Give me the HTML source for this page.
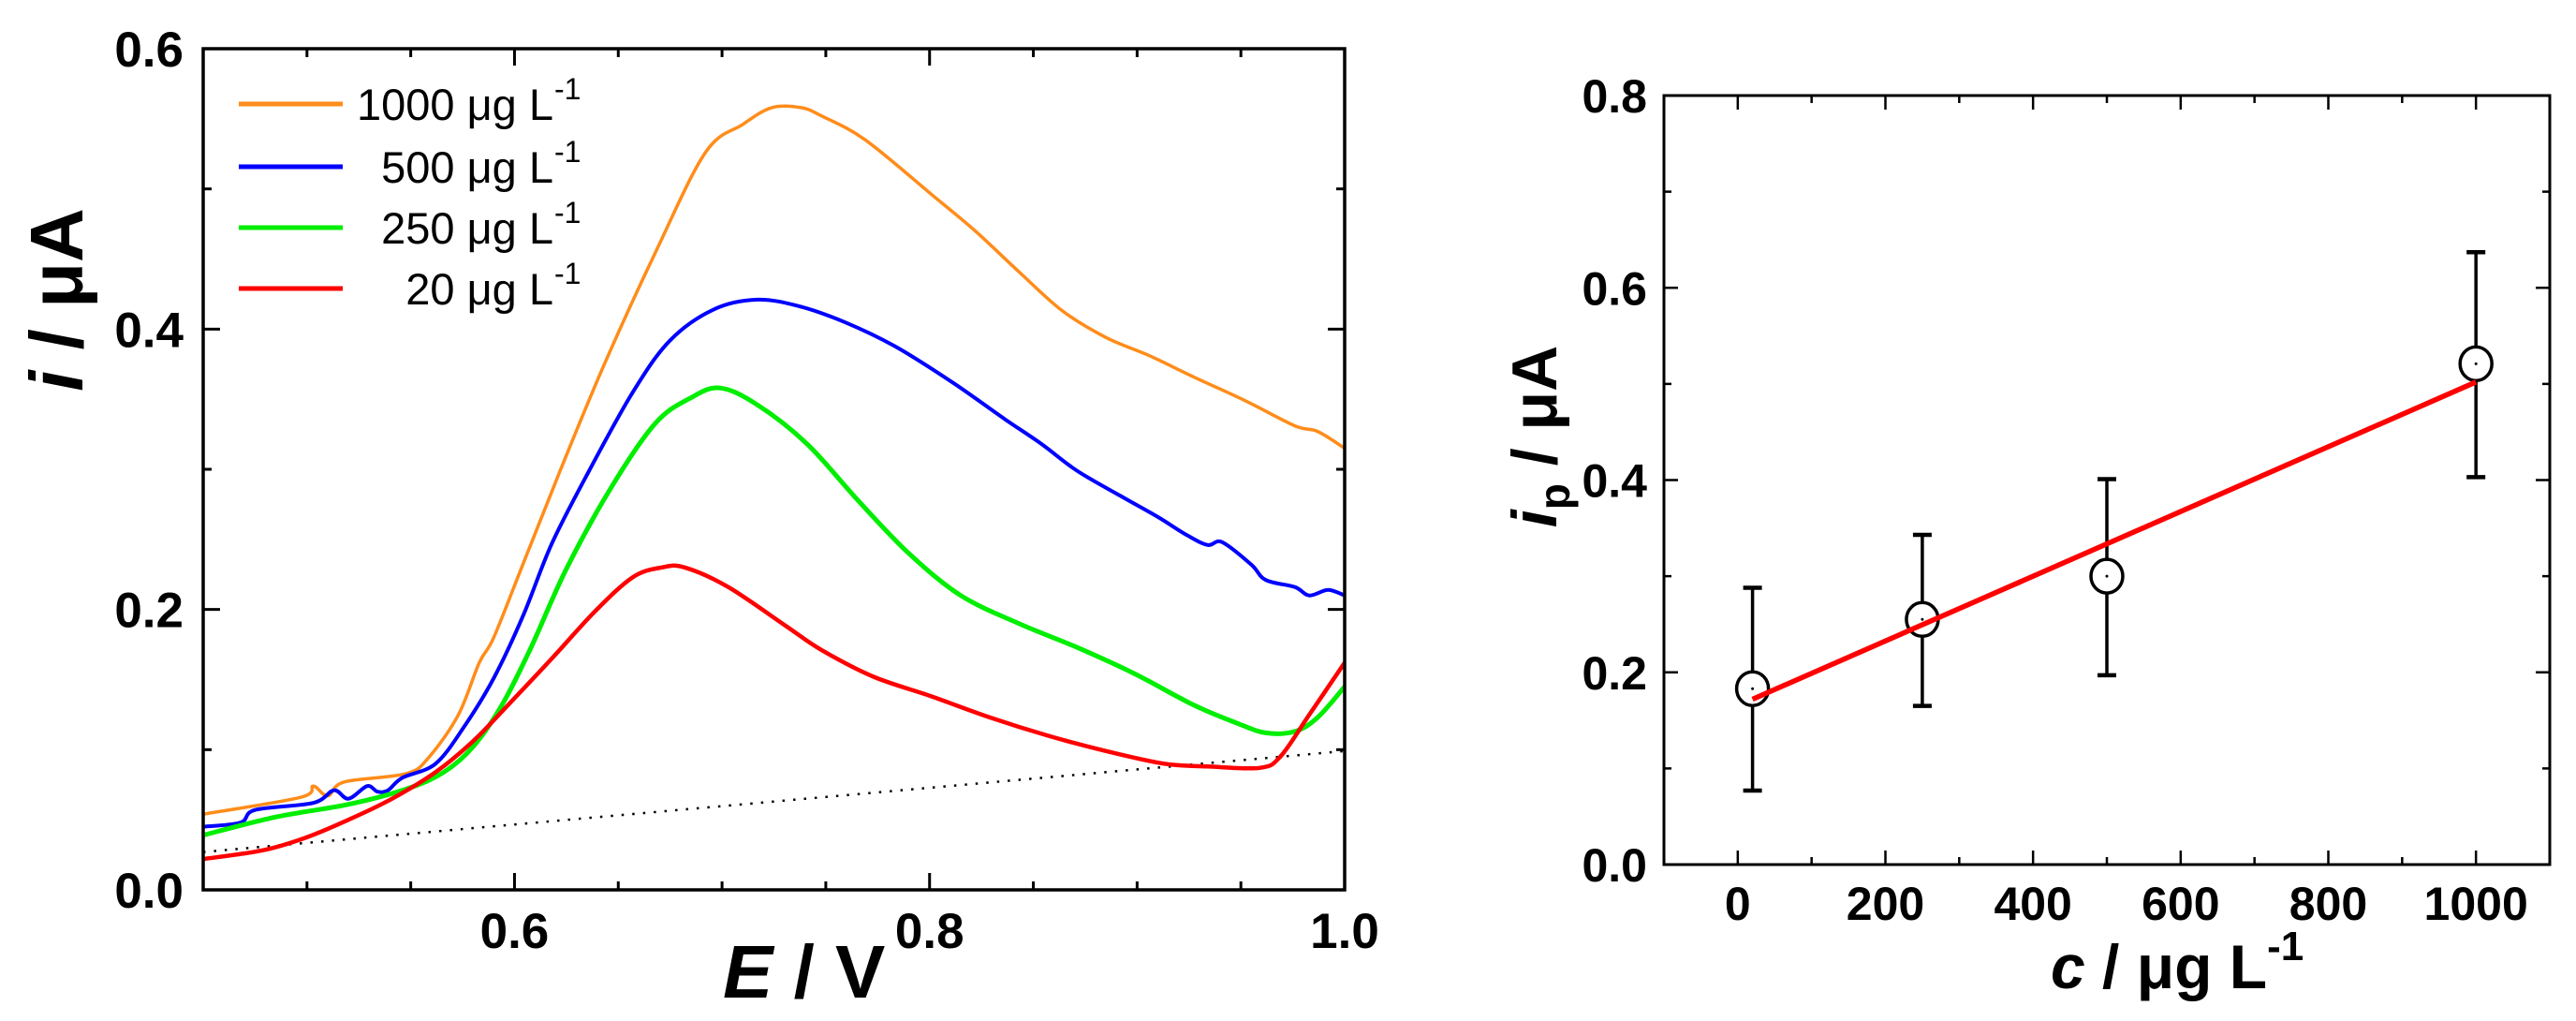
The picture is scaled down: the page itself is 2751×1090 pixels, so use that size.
<!DOCTYPE html>
<html><head><meta charset="utf-8"><style>
html,body{margin:0;padding:0;background:#fff}
svg{display:block}
text{font-family:"Liberation Sans",Arial,sans-serif}
</style></head><body>
<svg id="fig" width="2751" height="1090" viewBox="0 0 2751 1090" xmlns="http://www.w3.org/2000/svg">
<rect width="2751" height="1090" fill="#fff"/>
<g id="left"></g>
<g id="right"></g>
</svg>
<script>
// ---------- Left chart data ----------
const E1000 = [0.450,0.497,0.503,0.510,0.518,0.548,0.559,0.573,0.583,0.590,0.604,0.622,0.643,0.668,0.692,0.710,0.724,0.738,0.748,0.769,0.801,0.822,0.843,0.864,0.885,0.906,0.927,0.952,0.976,0.987,1.000];
const I1000 = [0.054,0.066,0.074,0.067,0.077,0.083,0.095,0.125,0.162,0.180,0.232,0.299,0.374,0.455,0.526,0.546,0.558,0.558,0.552,0.535,0.496,0.470,0.441,0.413,0.394,0.381,0.366,0.349,0.331,0.327,0.315];
const E500 = [0.450,0.468,0.475,0.503,0.513,0.520,0.529,0.534,0.539,0.546,0.562,0.576,0.590,0.604,0.618,0.636,0.657,0.675,0.696,0.717,0.738,0.759,0.783,0.811,0.836,0.854,0.871,0.892,0.910,0.924,0.934,0.941,0.955,0.962,0.976,0.983,0.992,1.000];
const I500 = [0.045,0.048,0.057,0.062,0.071,0.065,0.074,0.070,0.071,0.080,0.090,0.117,0.151,0.195,0.247,0.299,0.355,0.392,0.414,0.421,0.416,0.405,0.388,0.362,0.336,0.318,0.299,0.281,0.266,0.253,0.246,0.248,0.232,0.221,0.216,0.210,0.214,0.210];
const E250 = [0.450,0.485,0.520,0.548,0.566,0.580,0.594,0.608,0.625,0.647,0.668,0.685,0.699,0.717,0.741,0.766,0.790,0.815,0.843,0.871,0.899,0.927,0.948,0.962,0.976,0.987,1.000];
const I250 = [0.039,0.052,0.061,0.072,0.084,0.102,0.132,0.173,0.229,0.288,0.333,0.351,0.358,0.346,0.318,0.277,0.240,0.210,0.190,0.173,0.154,0.132,0.119,0.112,0.113,0.123,0.145];
const E20 = [0.450,0.478,0.499,0.520,0.541,0.562,0.580,0.597,0.618,0.639,0.657,0.671,0.682,0.703,0.731,0.748,0.773,0.801,0.829,0.857,0.885,0.913,0.934,0.959,0.969,0.983,1.000];
const I20 = [0.022,0.028,0.037,0.050,0.065,0.084,0.106,0.132,0.165,0.199,0.223,0.230,0.230,0.216,0.188,0.171,0.152,0.138,0.123,0.110,0.099,0.090,0.088,0.087,0.095,0.125,0.162];
const baseE = [0.450,1.000];
const baseI = [0.027,0.099];
const legendLabels = ["1000","500","250","20"];
const xTicksL = [0.6,0.8,1.0];
const yTicksL = [0.0,0.2,0.4,0.6];

// ---------- Right chart data ----------
const conc = [20,250,500,1000];
const peak = [0.183,0.255,0.300,0.521];
const errHi = [0.288,0.343,0.401,0.637];
const errLo = [0.077,0.165,0.197,0.403];
const fitX = [20,1000];
const fitY = [0.172,0.502];
const xTicksR = [0,200,400,600,800,1000];
const yTicksR = [0.0,0.2,0.4,0.6,0.8];

const NS="http://www.w3.org/2000/svg";
function mk(parent,tag,attrs,txt){const e=document.createElementNS(NS,tag);for(const k in attrs)e.setAttribute(k,attrs[k]);if(txt!==undefined)e.textContent=txt;parent.appendChild(e);return e;}

// Left axes
const L={x0:217,x1:1436,y0:950,y1:52};
const lx=v=>L.x0+(v-0.45)/(0.55)*(L.x1-L.x0);
const ly=v=>L.y0-v/0.6*(L.y0-L.y1);
const gl=document.getElementById('left');

function smoothPath(P){
  let d='M'+P[0][0].toFixed(1)+','+P[0][1].toFixed(1);
  for(let i=0;i<P.length-1;i++){
    const p0=P[Math.max(0,i-1)],p1=P[i],p2=P[i+1],p3=P[Math.min(P.length-1,i+2)];
    const c1x=p1[0]+(p2[0]-p0[0])/6,c1y=p1[1]+(p2[1]-p0[1])/6;
    const c2x=p2[0]-(p3[0]-p1[0])/6,c2y=p2[1]-(p3[1]-p1[1])/6;
    d+=' C'+c1x.toFixed(1)+','+c1y.toFixed(1)+' '+c2x.toFixed(1)+','+c2y.toFixed(1)+' '+p2[0].toFixed(1)+','+p2[1].toFixed(1);
  }
  return d;
}
function series(E,I,color,w,name){
  const P=E.map((e,i)=>[lx(e),ly(I[i])]);
  const p=mk(gl,'path',{d:smoothPath(P),fill:'none',stroke:color,'stroke-width':w,'stroke-linejoin':'round'});
  
  
}
{
  const d='M'+lx(baseE[0])+','+ly(baseI[0])+' L'+lx(baseE[1])+','+ly(baseI[1]);
  const p=mk(gl,'path',{d:d,stroke:'#000','stroke-width':2.5,'stroke-dasharray':'2.5 9',fill:'none'});
  
  
}
series(E1000,I1000,'#ff8c1a',3.5,'series-1000');
series(E500,I500,'#0000ff',4,'series-500');
series(E250,I250,'#00ee00',5,'series-250');
series(E20,I20,'#ff0000',4.5,'series-20');

// frame & ticks left
{
  const f=mk(gl,'rect',{x:L.x0,y:L.y1,width:L.x1-L.x0,height:L.y0-L.y1,fill:'none',stroke:'#000','stroke-width':3.5});
  
  
  for(let k=0;k<=11;k++){const v=0.45+k*0.05;const X=lx(v);const major=(k%4==3);const len=major?18:9;
    mk(gl,'line',{x1:X,y1:L.y0,x2:X,y2:L.y0-len,stroke:'#000','stroke-width':3});
    mk(gl,'line',{x1:X,y1:L.y1,x2:X,y2:L.y1+len,stroke:'#000','stroke-width':3});}
  for(let k=0;k<=6;k++){const v=k*0.1;const Y=ly(v);const len=(k%2==0)?18:9;
    mk(gl,'line',{x1:L.x0,y1:Y,x2:L.x0+len,y2:Y,stroke:'#000','stroke-width':3});
    mk(gl,'line',{x1:L.x1,y1:Y,x2:L.x1-len,y2:Y,stroke:'#000','stroke-width':3});}
  yTicksL.forEach(v=>{const t=mk(gl,'text',{x:196,y:ly(v)+19,'text-anchor':'end','font-size':53,'font-weight':'bold'},v.toFixed(1));
    
    });
  xTicksL.forEach(v=>{const t=mk(gl,'text',{x:lx(v),y:1012,'text-anchor':'middle','font-size':53,'font-weight':'bold'},v.toFixed(1));
    
    });
  const yt=mk(gl,'text',{transform:'translate(88,320) rotate(-90)','text-anchor':'middle','font-size':80,'font-weight':'bold'});
  
  
  mk(yt,'tspan',{'font-style':'italic'},'i');mk(yt,'tspan',{},' / μA');
  const xt=mk(gl,'text',{x:772,y:1065,'font-size':80,'font-weight':'bold'});
  
  
  mk(xt,'tspan',{'font-style':'italic'},'E');mk(xt,'tspan',{},' / V');
  const cols=['#ff8c1a','#0000ff','#00ee00','#ff0000'];
  const ys=[111,178,243,308];
  legendLabels.forEach((lab,i)=>{
    const g=mk(gl,'g',{});
    
    
    mk(g,'line',{x1:255,y1:ys[i],x2:366,y2:ys[i],stroke:cols[i],'stroke-width':5});
    mk(g,'text',{x:591,y:ys[i]+17,'text-anchor':'end','font-size':47},lab+' μg L');
    mk(g,'text',{x:592,y:ys[i]-5,'font-size':32},'-1');
  });
}

// Right axes
const R={x0:1777,x1:2723,y0:923,y1:102};
const rx=v=>R.x0+(v+100)/1200*(R.x1-R.x0);
const ry=v=>R.y0-v/0.8*(R.y0-R.y1);
const gr=document.getElementById('right');
{
  const f=mk(gr,'rect',{x:R.x0,y:R.y1,width:R.x1-R.x0,height:R.y0-R.y1,fill:'none',stroke:'#000','stroke-width':3});
  
  
  for(let k=0;k<=10;k++){const v=k*100;const X=rx(v);const len=(k%2==0)?15:8;
    mk(gr,'line',{x1:X,y1:R.y0,x2:X,y2:R.y0-len,stroke:'#000','stroke-width':2.5});
    mk(gr,'line',{x1:X,y1:R.y1,x2:X,y2:R.y1+len,stroke:'#000','stroke-width':2.5});}
  for(let k=0;k<=8;k++){const v=k*0.1;const Y=ry(v);const len=(k%2==0)?15:8;
    mk(gr,'line',{x1:R.x0,y1:Y,x2:R.x0+len,y2:Y,stroke:'#000','stroke-width':2.5});
    mk(gr,'line',{x1:R.x1,y1:Y,x2:R.x1-len,y2:Y,stroke:'#000','stroke-width':2.5});}
  yTicksR.forEach(v=>{const t=mk(gr,'text',{x:1759,y:ry(v)+18,'text-anchor':'end','font-size':50,'font-weight':'bold'},v.toFixed(1));
    
    });
  xTicksR.forEach(v=>{const t=mk(gr,'text',{x:rx(v),y:982,'text-anchor':'middle','font-size':50,'font-weight':'bold'},String(v));
    
    });
  const yt=mk(gr,'text',{transform:'translate(1662,466) rotate(-90)','text-anchor':'middle','font-size':68,'font-weight':'bold'});
  
  
  mk(yt,'tspan',{'font-style':'italic'},'i');mk(yt,'tspan',{'font-size':46,dy:14},'p');mk(yt,'tspan',{dy:-14},' / μA');
  const xt=mk(gr,'text',{x:2190,y:1055,'font-size':66,'font-weight':'bold'});
  
  
  mk(xt,'tspan',{'font-style':'italic'},'c');mk(xt,'tspan',{},' / μg L');mk(xt,'tspan',{'font-size':44,dy:-30},'-1');

  conc.forEach((c,i)=>{
    const g=mk(gr,'g',{});
    
    
    const X=rx(c);
    mk(g,'line',{x1:X,y1:ry(errHi[i]),x2:X,y2:ry(errLo[i]),stroke:'#000','stroke-width':3.5});
    mk(g,'line',{x1:X-10,y1:ry(errHi[i]),x2:X+10,y2:ry(errHi[i]),stroke:'#000','stroke-width':4.5});
    mk(g,'line',{x1:X-10,y1:ry(errLo[i]),x2:X+10,y2:ry(errLo[i]),stroke:'#000','stroke-width':4.5});
    mk(g,'ellipse',{cx:X,cy:ry(peak[i]),rx:17,ry:18,fill:'#fff',stroke:'#000','stroke-width':3.5});
    mk(g,'circle',{cx:X,cy:ry(peak[i]),r:1.5,fill:'#000'});
  });
  const fl=mk(gr,'line',{x1:rx(fitX[0]),y1:ry(fitY[0]),x2:rx(fitX[1]),y2:ry(fitY[1]),stroke:'#ff0000','stroke-width':5.5});
  
  
}
</script>
</body></html>
